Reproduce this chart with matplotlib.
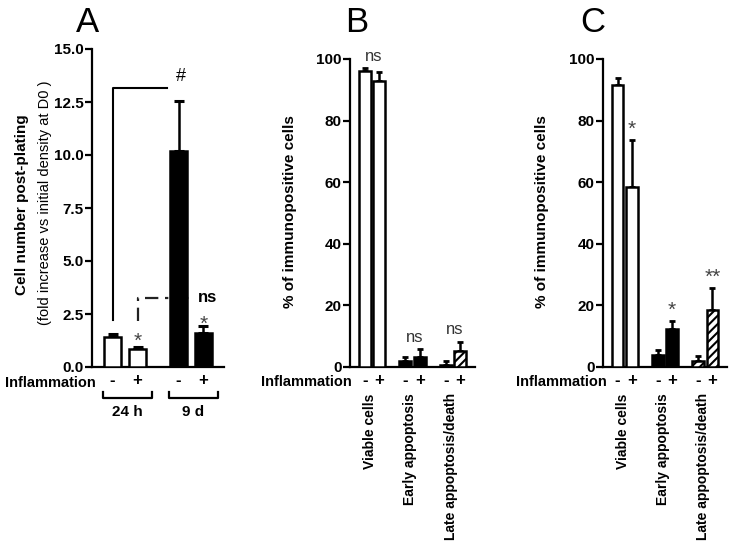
import matplotlib
matplotlib.use("Agg")
import matplotlib.pyplot as plt
import matplotlib.transforms as mtrans

plt.rcParams['font.family'] = ['Liberation Sans', 'DejaVu Sans']
plt.rcParams['hatch.linewidth'] = 1.5

# panel A data
a_vals = [1.43, 0.85, 10.2, 1.59]
a_errs = [0.12, 0.07, 2.35, 0.33]
a_colors = ['white', 'white', 'black', 'black']
a_signs = ['-', '+', '-', '+']
a_groups = ['24 h', '9 d']

# panels B and C data: order = viable(-,+), early(-,+), late(-,+)
categories = ['Viable cells', 'Early appoptosis', 'Late appoptosis/death']
b_vals = [96.2, 92.8, 1.9, 3.2, 0.8, 5.3]
b_errs = [0.8, 3.1, 1.3, 2.6, 1.0, 2.9]
b_marks = ['ns', 'ns', 'ns']
c_vals = [91.7, 58.4, 3.8, 12.2, 2.1, 18.4]
c_errs = [2.1, 15.3, 1.8, 2.7, 1.4, 7.1]
c_marks = ['', '*', '*', '**']

fig = plt.figure(figsize=(7.34, 5.53), dpi=100)
W, H = 734, 553


def axes_px(left, right, top, bottom):
    return fig.add_axes([left / W, 1 - bottom / H, (right - left) / W, (bottom - top) / H])


def style(ax):
    for s in ['top', 'right']:
        ax.spines[s].set_visible(False)
    for s in ['left', 'bottom']:
        ax.spines[s].set_linewidth(1.6)
    ax.tick_params(axis='y', width=1.6, length=5, labelsize=11, pad=1)
    ax.tick_params(axis='x', length=0, labelsize=12, pad=4)
    for lab in ax.get_yticklabels():
        lab.set_fontweight('bold')
    for lab in ax.get_xticklabels():
        lab.set_fontweight('bold')


# ---------------- Panel A ----------------
axA = axes_px(92, 224, 49, 367)
xa = [0, 1, 2.64, 3.64]
axA.bar(xa, a_vals, width=0.68, color=a_colors, edgecolor='black', linewidth=1.8, zorder=3)
axA.errorbar(xa, a_vals, yerr=[[0] * 4, a_errs], fmt='none', ecolor='black',
             elinewidth=1.8, capsize=3.5, capthick=2.2, zorder=2)
axA.set_xlim(-0.82, 4.46)
axA.set_ylim(0, 15)
axA.set_yticks([0, 2.5, 5, 7.5, 10, 12.5, 15])
axA.set_yticklabels(['0.0', '2.5', '5.0', '7.5', '10.0', '12.5', '15.0'])
axA.set_xticks(xa)
axA.set_xticklabels(a_signs)
style(axA)

# significance lines
axA.plot([0, 0, 2.18], [2.2, 13.17, 13.17], color='black', lw=1.5, zorder=1, clip_on=False)
axA.text(2.72, 13.3, '#', fontsize=13, ha='center', va='bottom')
axA.plot([1, 1, 3.3], [2.15, 3.25, 3.25], color='#222222', lw=1.6, zorder=1,
         dashes=(6, 3, 1.5, 3), clip_on=False)
axA.text(3.82, 3.27, 'ns', fontsize=12, fontweight='bold', ha='center', va='center')
axA.text(1, 1.2, '*', fontsize=15, color='#444444', ha='center', va='center')
axA.text(3.64, 2.0, '*', fontsize=15, color='#444444', ha='center', va='center')

# brackets under groups
trA = mtrans.blended_transform_factory(axA.transData, axA.transAxes)
for (x0, x1), g in zip([(-0.38, 1.58), (2.26, 4.22)], a_groups):
    axA.plot([x0, x0, x1, x1], [-0.078, -0.097, -0.097, -0.078], color='black',
             lw=1.6, transform=trA, clip_on=False)
    axA.text((x0 + x1) / 2, -0.14, g, transform=trA, ha='center', va='center',
             fontsize=11, fontweight='bold')

fig.text(50 / W, 1 - 383 / H, 'Inflammation', ha='center', va='center',
         fontsize=10.5, fontweight='bold')
fig.text(22 / W, 1 - 205 / H, 'Cell number post-plating', rotation=90,
         ha='center', va='center', fontsize=11, fontweight='bold')
fig.text(45 / W, 1 - 203 / H, '(fold increase vs initial density at D0 )', rotation=90,
         ha='center', va='center', fontsize=10.5)
fig.text(88 / W, 1 - 22 / H, 'A', ha='center', va='center', fontsize=25)


# ---------------- Panels B and C ----------------
def panel(ax, vals, errs, marks, mark_kind):
    xs = []
    for g in range(3):
        xs += [g - 0.178, g + 0.178]
    colors = ['white', 'white', 'black', 'black', 'white', 'white']
    hatches = ['', '', '', '', '////', '////']
    for x, v, c, h in zip(xs, vals, colors, hatches):
        ax.bar(x, v, width=0.29, color=c, edgecolor='black', linewidth=1.8,
               hatch=h, zorder=3)
    ax.errorbar(xs, vals, yerr=[[0] * 6, errs], fmt='none', ecolor='black',
                elinewidth=1.8, capsize=2.5, capthick=2.0, zorder=2)
    ax.set_xlim(-0.54, 2.54)
    ax.set_ylim(0, 100)
    ax.set_yticks([0, 20, 40, 60, 80, 100])
    ax.set_xticks(xs)
    ax.set_xticklabels(['-', '+'] * 3)
    style(ax)
    tr = mtrans.blended_transform_factory(ax.transData, ax.transAxes)
    for g, cat in enumerate(categories):
        ax.text(g - 0.05, -0.085, cat, rotation=90, transform=tr, ha='center', va='top',
                fontsize=10, fontweight='bold')
    if mark_kind == 'B':
        for g, m in enumerate(marks):
            top = max(vals[2 * g] + errs[2 * g], vals[2 * g + 1] + errs[2 * g + 1])
            ax.text(g + 0.05, top + 1.5, m, ha='center', va='bottom', fontsize=12,
                    color='#333333', clip_on=False)
    else:
        for i, m in enumerate(marks):
            if not m:
                continue
            j = [1, 1, 3, 5][i]
            ax.text(xs[j], vals[j] + errs[j] + 0.5, m, ha='center', va='bottom',
                    fontsize=15, color='#444444')


axB = axes_px(350, 475, 59, 367)
panel(axB, b_vals, b_errs, b_marks, 'B')
fig.text(306 / W, 1 - 382 / H, 'Inflammation', ha='center', va='center',
         fontsize=10.5, fontweight='bold')
fig.text(290 / W, 1 - 212 / H, '% of immunopositive cells', rotation=90,
         ha='center', va='center', fontsize=11, fontweight='bold')
fig.text(357 / W, 1 - 22 / H, 'B', ha='center', va='center', fontsize=25)

axC = axes_px(603, 727, 59, 367)
panel(axC, c_vals, c_errs, c_marks, 'C')
fig.text(561 / W, 1 - 382 / H, 'Inflammation', ha='center', va='center',
         fontsize=10.5, fontweight='bold')
fig.text(542 / W, 1 - 212 / H, '% of immunopositive cells', rotation=90,
         ha='center', va='center', fontsize=11, fontweight='bold')
fig.text(593 / W, 1 - 22 / H, 'C', ha='center', va='center', fontsize=25)

fig.savefig('out.png', dpi=100)
